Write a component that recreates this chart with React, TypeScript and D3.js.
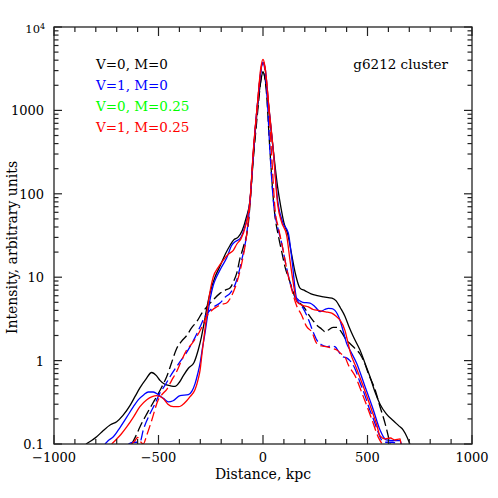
import * as d3 from "d3";

type Pt = [number, number];

// profiles: [distance kpc, intensity]
const blackSolid: Pt[] = [
  [-847, 0.1], [-820, 0.11], [-796, 0.122], [-764, 0.145], [-730, 0.17], [-700, 0.185],
  [-670, 0.22], [-636, 0.29], [-610, 0.38], [-589, 0.47], [-560, 0.6], [-533, 0.72],
  [-510, 0.66], [-493, 0.58], [-470, 0.52], [-445, 0.5], [-421, 0.49], [-400, 0.55],
  [-381, 0.66], [-357, 0.81], [-330, 0.95], [-310, 1.34], [-295, 1.9], [-282, 2.8],
  [-265, 4.8], [-254, 6.4], [-230, 10], [-206, 13.5], [-180, 19], [-158, 24], [-140, 28],
  [-120, 30], [-100, 36], [-80, 52], [-62, 84], [-46, 300], [-25, 1150], [-10, 2300],
  [0, 2900], [15, 2000], [30, 950], [50, 320], [70, 120], [85, 70], [100, 45], [118, 33],
  [135, 20], [155, 11], [177, 7.4], [200, 6.9], [230, 6.3], [260, 6.0], [290, 5.8],
  [330, 5.6], [350, 5.2], [370, 4.3], [392, 3.4], [410, 2.6], [432, 1.94], [464, 1.34],
  [488, 0.93], [512, 0.64], [536, 0.42], [560, 0.3], [590, 0.23], [624, 0.19], [650, 0.165],
  [671, 0.147], [690, 0.12], [703, 0.1],
];

const blackDashed: Pt[] = [
  [-628, 0.1], [-605, 0.13], [-589, 0.16], [-556, 0.23], [-530, 0.3], [-509, 0.37],
  [-485, 0.48], [-461, 0.64], [-437, 0.95], [-413, 1.4], [-390, 1.7], [-365, 2.0],
  [-340, 2.5], [-317, 2.93], [-290, 3.8], [-269, 4.4], [-240, 5.3], [-206, 6.4],
  [-180, 7.0], [-158, 7.4], [-140, 9], [-126, 11.1], [-110, 16.9], [-94, 23], [-70, 44],
  [-50, 200], [-25, 1000], [-10, 2300], [0, 2900], [15, 1800], [33, 335], [54, 64],
  [75, 30], [90, 20], [105, 13.4], [129, 8.8], [153, 5.8], [180, 4.8], [201, 4.2],
  [220, 3.5], [240, 3.0], [257, 2.67], [280, 2.4], [300, 2.2], [313, 2.33], [335, 2.5],
  [353, 2.5], [375, 2.2], [400, 1.75], [416, 1.6], [440, 1.4], [464, 1.2], [485, 0.95],
  [504, 0.7], [536, 0.45], [560, 0.28], [584, 0.177], [608, 0.1],
];

const blueSolid: Pt[] = [
  [-756, 0.1], [-740, 0.11], [-716, 0.122], [-690, 0.15], [-652, 0.21], [-620, 0.28],
  [-596, 0.34], [-570, 0.39], [-549, 0.42], [-525, 0.42], [-501, 0.39], [-475, 0.35],
  [-453, 0.32], [-430, 0.33], [-397, 0.38], [-357, 0.39], [-340, 0.43], [-325, 0.53],
  [-312, 0.7], [-301, 0.93], [-290, 1.4], [-278, 2.1], [-265, 3.5], [-254, 5.3],
  [-238, 8], [-222, 10.1], [-200, 13], [-174, 17], [-150, 24], [-130, 27], [-110, 29],
  [-90, 38], [-62, 84], [-46, 320], [-25, 1300], [-10, 3000], [0, 3800], [12, 3000],
  [25, 1300], [49, 330], [70, 84], [95, 45], [121, 34], [140, 15], [161, 5.6], [190, 5.0],
  [225, 4.9], [250, 4.4], [273, 3.86], [295, 4.1], [313, 4.24], [330, 4.2], [344, 4.0],
  [368, 3.07], [385, 2.2], [400, 1.61], [416, 1.34], [448, 0.93], [488, 0.49],
  [528, 0.256], [560, 0.147], [576, 0.122], [590, 0.112], [620, 0.11], [656, 0.11],
  [662, 0.1],
];

const blueDashed: Pt[] = [
  [-644, 0.1], [-620, 0.105], [-589, 0.105], [-573, 0.147], [-541, 0.23], [-515, 0.31],
  [-493, 0.41], [-470, 0.5], [-445, 0.64], [-420, 0.8], [-397, 0.97], [-370, 1.2],
  [-349, 1.47], [-325, 1.9], [-301, 2.55], [-280, 3.3], [-254, 4.0], [-230, 4.5],
  [-206, 4.9], [-180, 5.8], [-158, 6.4], [-140, 7.5], [-126, 9.2], [-102, 16], [-78, 33],
  [-60, 90], [-45, 330], [-25, 1300], [-10, 2900], [0, 3700], [10, 2900], [20, 1400],
  [33, 335], [54, 64], [70, 40], [90, 25], [110, 14], [130, 8.5], [150, 6.0], [170, 5.0],
  [185, 4.5], [201, 3.86], [220, 3.0], [240, 2.2], [257, 1.77], [280, 1.55], [305, 1.47],
  [325, 1.5], [344, 1.47], [365, 1.25], [384, 1.11], [400, 1.08], [416, 1.0], [440, 0.8],
  [464, 0.55], [488, 0.38], [510, 0.26], [528, 0.2], [550, 0.14], [570, 0.11],
  [590, 0.105], [620, 0.105], [640, 0.1],
];

const redSolid: Pt[] = [
  [-724, 0.1], [-700, 0.115], [-680, 0.13], [-652, 0.16], [-620, 0.21], [-589, 0.28],
  [-556, 0.34], [-530, 0.37], [-509, 0.38], [-477, 0.35], [-455, 0.3], [-429, 0.28],
  [-405, 0.28], [-389, 0.29], [-365, 0.33], [-349, 0.37], [-325, 0.45], [-310, 0.6],
  [-301, 0.77], [-292, 1.2], [-282, 1.94], [-272, 3.1], [-262, 4.9], [-250, 7.5],
  [-238, 10.1], [-215, 13], [-190, 16], [-165, 19], [-142, 21], [-125, 25], [-105, 29],
  [-85, 40], [-62, 84], [-46, 335], [-25, 1334], [-10, 3300], [0, 4100], [10, 3300],
  [25, 1334], [49, 335], [70, 75], [90, 45], [113, 32], [129, 16], [145, 8.5], [161, 5.1],
  [190, 4.6], [217, 4.4], [240, 4.1], [265, 4.0], [300, 3.85], [329, 3.7], [350, 3.4],
  [368, 3.07], [392, 2.3], [405, 1.7], [416, 1.3], [448, 0.8], [480, 0.49], [520, 0.256],
  [544, 0.17], [560, 0.125], [584, 0.115], [610, 0.118], [630, 0.112], [656, 0.115],
  [660, 0.1],
];

const redDashed: Pt[] = [
  [-628, 0.1], [-612, 0.11], [-600, 0.12], [-590, 0.11], [-573, 0.1], [-555, 0.13],
  [-533, 0.19], [-501, 0.34], [-480, 0.4], [-461, 0.45], [-437, 0.58], [-413, 0.74],
  [-390, 1.0], [-365, 1.34], [-340, 1.6], [-317, 1.94], [-290, 2.6], [-269, 3.4],
  [-240, 4.1], [-222, 4.4], [-200, 4.7], [-174, 4.9], [-150, 6.0], [-126, 8.5],
  [-102, 14.5], [-80, 30], [-62, 80], [-46, 320], [-25, 1300], [-10, 3100], [0, 3900],
  [10, 3100], [25, 1334], [40, 335], [58, 64], [75, 38], [95, 22], [115, 12], [135, 7.5],
  [160, 4.6], [185, 3.5], [209, 2.55], [233, 2.22], [257, 1.61], [280, 1.5], [305, 1.47],
  [330, 1.4], [353, 1.34], [375, 1.2], [392, 1.11], [408, 0.89], [440, 0.66], [480, 0.37],
  [520, 0.2], [552, 0.12], [570, 0.1],
];

const legendLabels = ["V=0, M=0", "V=1, M=0", "V=0, M=0.25", "V=1, M=0.25"];
const legendColors = ["#000000", "#0000ff", "#00ff00", "#ff0000"];
const xTickLabels = [-1000, -500, 0, 500, 1000];
const yTickLabels = ["0.1", "1", "10", "100", "1000"];

const W = 498;
const H = 498;
const margin = { top: 27, right: 26, bottom: 54, left: 54 };
const font = "'DejaVu Serif', serif";

export default function App() {
  const x = d3.scaleLinear().domain([-1000, 1000]).range([margin.left, W - margin.right]);
  const y = d3.scaleLog().domain([0.1, 10000]).range([H - margin.bottom, margin.top]);
  const [x0, x1] = x.range();
  const [y0, y1] = y.range();

  const line = d3
    .line<Pt>()
    .x((d) => x(d[0]))
    .y((d) => y(d[1]))
    .curve(d3.curveMonotoneX);

  const series = [
    { data: blackSolid, color: legendColors[0], dash: null },
    { data: blackDashed, color: legendColors[0], dash: "10,4" },
    { data: blueSolid, color: legendColors[1], dash: null },
    { data: blueDashed, color: legendColors[1], dash: "10,4" },
    { data: redDashed, color: legendColors[3], dash: "10,4" },
    { data: redSolid, color: legendColors[3], dash: null },
  ];

  const xMinor = x.ticks(20);
  const yMinor = y.ticks();
  const isMajorY = (v: number) => Math.abs(Math.log10(v) - Math.round(Math.log10(v))) < 1e-6;
  const axisColor = "#222";

  return (
    <svg
      width={W}
      height={H}
      style={{ position: "absolute", left: 0, top: 0, background: "#fff" }}
      fontFamily={font}
    >
      <defs>
        <clipPath id="plot">
          <rect x={x0} y={y1} width={x1 - x0} height={y0 - y1} />
        </clipPath>
      </defs>

      <g clipPath="url(#plot)">
        {series.map((s, i) => (
          <path
            key={i}
            d={line(s.data) ?? ""}
            fill="none"
            stroke={s.color}
            strokeWidth={1.3}
            strokeDasharray={s.dash ?? undefined}
          />
        ))}
      </g>

      {/* frame */}
      <rect x={x0} y={y1} width={x1 - x0} height={y0 - y1} fill="none" stroke={axisColor} strokeWidth={1.3} />

      {/* x ticks, bottom and top, pointing inward */}
      {xMinor.map((t) => {
        const len = t % 500 === 0 ? 9 : 5;
        return (
          <g key={"x" + t} stroke={axisColor} strokeWidth={1.2}>
            <line x1={x(t)} x2={x(t)} y1={y0} y2={y0 - len} />
            <line x1={x(t)} x2={x(t)} y1={y1} y2={y1 + len} />
          </g>
        );
      })}

      {/* y ticks, left and right */}
      {yMinor.map((t, i) => {
        const len = isMajorY(t) ? 8 : 4.5;
        return (
          <g key={"y" + i} stroke={axisColor} strokeWidth={1.2}>
            <line x1={x0} x2={x0 + len} y1={y(t)} y2={y(t)} />
            <line x1={x1} x2={x1 - len} y1={y(t)} y2={y(t)} />
          </g>
        );
      })}

      {/* x tick labels */}
      {xTickLabels.map((t) => (
        <text key={"xl" + t} x={x(t)} y={y0 + 18} textAnchor="middle" fontSize={13}>
          {t < 0 ? "\u2212" + Math.abs(t) : String(t)}
        </text>
      ))}

      {/* y tick labels */}
      {yTickLabels.map((t) => (
        <text key={"yl" + t} x={x0 - 10} y={y(+t) + 5} textAnchor="end" fontSize={13}>
          {t}
        </text>
      ))}
      <text x={x0 - 14} y={y(10000) + 6} textAnchor="end" fontSize={11.5}>
        10
      </text>
      <text x={x0 - 14} y={y(10000) + 2} textAnchor="start" fontSize={8}>
        4
      </text>

      {/* axis titles */}
      <text x={(x0 + x1) / 2} y={479} textAnchor="middle" fontSize={14}>
        Distance, kpc
      </text>
      <text
        transform={`translate(17,${(y0 + y1) / 2 + 12}) rotate(-90)`}
        textAnchor="middle"
        fontSize={14}
      >
        Intensity, arbitrary units
      </text>

      {/* legend */}
      {legendLabels.map((l, i) => (
        <text key={l} x={96} y={69 + i * 21} fontSize={13.5} fill={legendColors[i]}>
          {l}
        </text>
      ))}
      <text x={448} y={69} textAnchor="end" fontSize={13.5}>
        g6212 cluster
      </text>
    </svg>
  );
}
